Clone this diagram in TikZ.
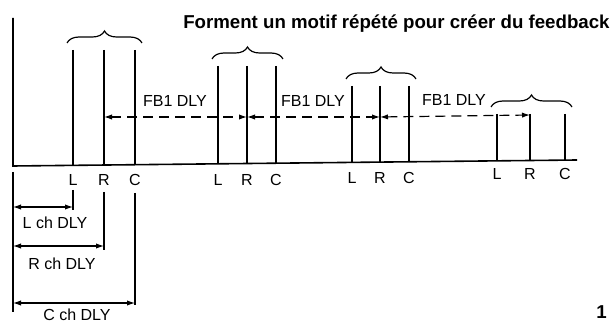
\documentclass[tikz,border=0pt]{standalone}
\usepackage{fontspec}
\setmainfont{Liberation Sans}
\usetikzlibrary{arrows.meta,calc,decorations.pathreplacing}
\tikzset{
  imp/.style={line width=1.3pt},
  axis/.style={line width=1.2pt},
  brc/.style={decorate,decoration={brace,amplitude=9pt},line width=0.9pt},
  fbarr/.style={{Latex[length=6pt,width=4pt]}-{Latex[length=6pt,width=4pt]},
                line width=0.9pt, dash pattern=on 7.5pt off 4.5pt},
  dim/.style={line width=0.8pt},
  dimarr/.style={{Latex[length=6pt,width=4pt]}-{Latex[length=6pt,width=4pt]}, line width=0.8pt},
  lbl/.style={font=\fontsize{12}{14}\selectfont, inner sep=0pt},
  fb/.style={font=\fontsize{12}{14}\selectfont, inner sep=0pt},
}

\begin{document}
\begin{tikzpicture}[x=0.75pt,y=-0.75pt]
\useasboundingbox (0,0) rectangle (610,327);
\coordinate (ytop) at (13,18);
\coordinate (o) at (13,166);
\coordinate (e) at (577,160);
\coordinate (d0) at (13,172);
\coordinate (d1) at (13,312);
\draw[axis] (ytop) -- (o) -- (e);
\draw[dim] (d0) -- (d1);
\foreach \g/\xl/\xr/\xc/\top/\ly in {1/73/104/135/50/180, 2/218/247/276/66/180,
  3/352/380/409/86/178, 4/497/530/565/114/174} {
  \foreach \c/\x in {L/\xl,R/\xr,C/\xc} {
    \coordinate (\c\g t) at (\x,\top);
    \coordinate (\c\g b) at (\x,{166-6*(\x-13)/564});
    \draw[imp] (\c\g t) -- (\c\g b);
    \node[lbl] (\c\g lab) at (\x,\ly) {\c};
  }
  \draw[brc] ($(L\g t)+(-6,-7)$) -- ($(C\g t)+(7,-7)$);
}
\coordinate (ar1) at (R1t |- 0,117);
\coordinate (ar2) at (R2t |- 0,117);
\coordinate (ar3) at (R3t |- 0,117);
\coordinate (ar4) at (R4t |- 0,115);
\draw[fbarr] (ar1) -- (ar2);
\draw[fbarr] (ar2) -- (ar3);
\draw[fbarr] (ar3) -- (ar4);
\node[fb] (fb1) at (175,101) {FB1 DLY};
\node[fb] (fb2) at (313,101) {FB1 DLY};
\node[fb] (fb3) at (454,100) {FB1 DLY};
\node[fb,anchor=base west,font=\fontsize{14}{16}\selectfont\bfseries] (title) at (183,28.5) {Forment un motif répété pour créer du feedback};
\draw[dim] (L1t |- 0,190) -- (L1t |- 0,210);
\draw[dim] (R1t |- 0,192) -- (R1t |- 0,250);
\draw[dim] (C1t |- 0,193) -- (C1t |- 0,305);
\draw[dimarr] (d0 |- 0,207) -- (L1t |- 0,207);
\draw[dimarr] (d0 |- 0,246) -- (R1t |- 0,246);
\draw[dimarr] (d0 |- 0,303) -- (C1t |- 0,303);
\node[lbl] (ldly) at (55,223) {L ch DLY};
\node[lbl] (rdly) at (62,264) {R ch DLY};
\node[lbl] (cdly) at (77,315) {C ch DLY};
\node[font=\fontsize{14}{16}\selectfont\bfseries, anchor=east, inner sep=0pt] (pg) at (607,312) {1};
\end{tikzpicture}
\end{document}
